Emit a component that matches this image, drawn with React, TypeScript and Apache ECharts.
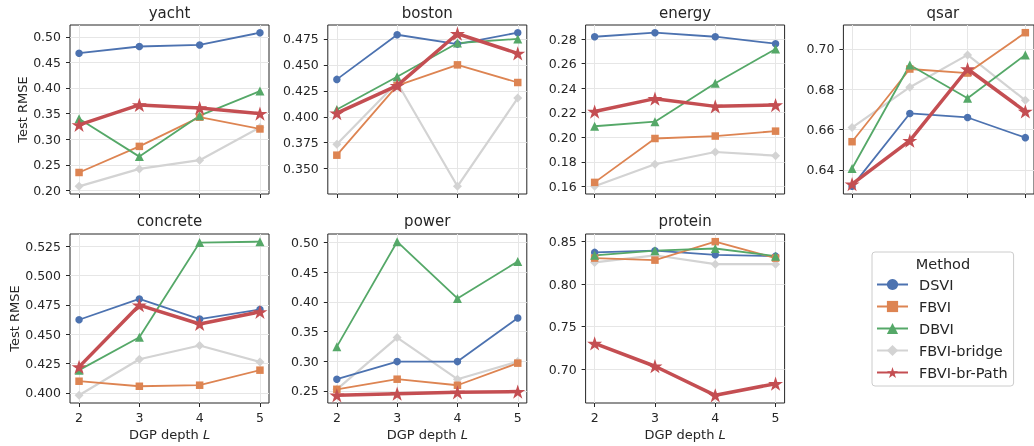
import React, { useEffect, useRef } from 'react';
import * as echarts from 'echarts';

const depths = [2, 3, 4, 5];
const methods = ['DSVI', 'FBVI', 'DBVI', 'FBVI-bridge', 'FBVI-br-Path'];

// rows follow `methods` order, columns follow `depths`
const yacht = [
  [0.468, 0.481, 0.484, 0.508],
  [0.235, 0.286, 0.343, 0.320],
  [0.340, 0.266, 0.346, 0.394],
  [0.208, 0.242, 0.259, 0.323],
  [0.328, 0.367, 0.361, 0.350],
];
const boston = [
  [0.436, 0.479, 0.470, 0.481],
  [0.363, 0.430, 0.450, 0.433],
  [0.407, 0.4385, 0.471, 0.475],
  [0.3735, 0.433, 0.333, 0.418],
  [0.4035, 0.430, 0.480, 0.461],
];
const energy = [
  [0.282, 0.2853, 0.282, 0.2763],
  [0.1632, 0.199, 0.201, 0.205],
  [0.209, 0.2127, 0.244, 0.272],
  [0.160, 0.178, 0.188, 0.185],
  [0.221, 0.2315, 0.2252, 0.2263],
];
const qsar = [
  [0.6319, 0.668, 0.666, 0.656],
  [0.654, 0.690, 0.688, 0.708],
  [0.6407, 0.692, 0.6755, 0.697],
  [0.661, 0.681, 0.697, 0.6745],
  [0.633, 0.6545, 0.690, 0.669],
];
const concrete = [
  [0.4623, 0.480, 0.4629, 0.471],
  [0.410, 0.4057, 0.4066, 0.4194],
  [0.4194, 0.4474, 0.5279, 0.5287],
  [0.398, 0.4287, 0.4404, 0.4264],
  [0.4222, 0.4747, 0.4587, 0.469],
];
const power = [
  [0.2698, 0.2994, 0.2994, 0.3726],
  [0.2528, 0.2698, 0.2596, 0.2968],
  [0.3245, 0.501, 0.4056, 0.4678],
  [0.2528, 0.3398, 0.2698, 0.2994],
  [0.2427, 0.2455, 0.2477, 0.249],
];
const protein = [
  [0.8374, 0.8394, 0.8346, 0.833],
  [0.8307, 0.8283, 0.850, 0.8307],
  [0.8339, 0.8394, 0.842, 0.833],
  [0.8256, 0.834, 0.8236, 0.8236],
  [0.7303, 0.7035, 0.6693, 0.683],
];

const yachtTicks = [0.2, 0.25, 0.3, 0.35, 0.4, 0.45, 0.5];
const bostonTicks = [0.35, 0.375, 0.4, 0.425, 0.45, 0.475];
const energyTicks = [0.16, 0.18, 0.2, 0.22, 0.24, 0.26, 0.28];
const qsarTicks = [0.64, 0.66, 0.68, 0.7];
const concreteTicks = [0.4, 0.425, 0.45, 0.475, 0.5, 0.525];
const powerTicks = [0.25, 0.3, 0.35, 0.4, 0.45, 0.5];
const proteinTicks = [0.7, 0.75, 0.8, 0.85];

const panels = [
  { title: 'yacht', values: yacht, ticks: yachtTicks, dec: 2 },
  { title: 'boston', values: boston, ticks: bostonTicks, dec: 3 },
  { title: 'energy', values: energy, ticks: energyTicks, dec: 2 },
  { title: 'qsar', values: qsar, ticks: qsarTicks, dec: 2 },
  { title: 'concrete', values: concrete, ticks: concreteTicks, dec: 3 },
  { title: 'power', values: power, ticks: powerTicks, dec: 2 },
  { title: 'protein', values: protein, ticks: proteinTicks, dec: 2 },
];

const STAR =
  'path://M50,0 L61.2,34.5 L97.6,34.5 L68.2,55.9 L79.4,90.5 L50,69.1 L20.6,90.5 L31.8,55.9 L2.4,34.5 L38.8,34.5 Z';
const COLORS = ['#4C72B0', '#DD8452', '#55A868', '#d3d3d3', '#C44E52'];
const SYMBOLS = ['circle', 'rect', 'triangle', 'diamond', STAR];
const SIZES = [7.5, 7.5, 9, 9, 15];
const WIDTHS = [1.8, 1.8, 1.8, 2.2, 3.5];
const ZS = [3, 3, 3, 2, 4];

const FONT = 'DejaVu Sans';
const TXT = '#262626';

function pad(min: number, max: number) {
  const r = max - min;
  return [min - 0.05 * r, max + 0.05 * r];
}

export default function App() {
  const ref = useRef<HTMLDivElement>(null);
  useEffect(() => {
    if (!ref.current) return;
    const chart = echarts.init(ref.current, undefined, { renderer: 'svg' });
    const grids: any[] = [];
    const xAxes: any[] = [];
    const yAxes: any[] = [];
    const series: any[] = [];
    const graphics: any[] = [];
    const [xmin, xmax] = pad(Math.min(...depths), Math.max(...depths));
    panels.forEach((p, i) => {
      const row = i < 4 ? 0 : 1;
      const col = i % 4;
      const left = 70 + col * 257.8;
      const top = row === 0 ? 25 : 234;
      grids.push({
        left, top, width: 199, height: 169,
        show: true, borderColor: TXT, borderWidth: 1, backgroundColor: 'transparent',
        containLabel: false,
      });
      const all = p.values.flat();
      const [ymin, ymax] = pad(Math.min(...all), Math.max(...all));
      xAxes.push({
        type: 'value', gridIndex: i, min: xmin, max: xmax,
        axisLine: { show: false },
        axisTick: { show: true, length: 4, customValues: depths, lineStyle: { color: TXT, width: 1 } },
        axisLabel: {
          show: row === 1, customValues: depths, margin: 8,
          fontFamily: FONT, fontSize: 12.5, color: TXT,
          formatter: (v: number) => String(v),
        },
        splitLine: { show: true, lineStyle: { color: '#e6e6e6', width: 1 } },
        name: row === 1 ? 'DGP depth {i|L}' : '',
        nameLocation: 'middle', nameGap: 25,
        nameTextStyle: {
          fontFamily: FONT, fontSize: 13, color: TXT,
          rich: { i: { fontFamily: FONT, fontSize: 13, fontStyle: 'italic', color: TXT } },
        },
      });
      yAxes.push({
        type: 'value', gridIndex: i, min: ymin, max: ymax,
        axisLine: { show: false },
        axisTick: { show: true, length: 4, customValues: p.ticks, lineStyle: { color: TXT, width: 1 } },
        axisLabel: {
          customValues: p.ticks, margin: 9,
          fontFamily: FONT, fontSize: 12.5, color: TXT,
          formatter: (v: number) => v.toFixed(p.dec),
        },
        splitLine: { show: true, lineStyle: { color: '#e6e6e6', width: 1 } },
        name: col === 0 ? 'Test RMSE' : '',
        nameLocation: 'middle', nameGap: 41,
        nameTextStyle: { fontFamily: FONT, fontSize: 13, color: TXT },
      });
      methods.forEach((m, k) => {
        series.push({
          type: 'line', name: m, xAxisIndex: i, yAxisIndex: i,
          data: depths.map((d, j) => [d, p.values[k][j]]),
          symbol: SYMBOLS[k], symbolSize: SIZES[k], symbolKeepAspect: true,
          showAllSymbol: true,
          lineStyle: { color: COLORS[k], width: WIDTHS[k] },
          itemStyle: { color: COLORS[k], borderWidth: 0 },
          z: ZS[k], emphasis: { disabled: true }, silent: true, clip: false,
        });
      });
      graphics.push({
        type: 'text', x: left + 99.5, y: row === 0 ? 12.5 : 221,
        style: { text: p.title, fontFamily: FONT, fontSize: 15, fill: TXT, align: 'center', verticalAlign: 'middle' },
      });
    });
    graphics.push({
      type: 'text', x: 943, y: 264, z: 100,
      style: { text: 'Method', fontFamily: FONT, fontSize: 14.5, fill: TXT, align: 'center', verticalAlign: 'middle' },
    });
    chart.setOption({
      animation: false,
      grid: grids,
      xAxis: xAxes,
      yAxis: yAxes,
      series,
      graphic: graphics,
      legend: {
        data: methods, orient: 'vertical', left: 872, top: 252,
        itemWidth: 31, itemHeight: 14, itemGap: 7,
        padding: [25, 6, 6, 4],
        borderColor: '#cccccc', borderWidth: 1, borderRadius: 3, backgroundColor: '#ffffff',
        textStyle: { fontFamily: FONT, fontSize: 14.5, color: TXT, padding: [0, 0, 0, 6] },
        selectedMode: false,
      },
    });
    return () => chart.dispose();
  }, []);
  return <div ref={ref} style={{ position: 'fixed', left: 0, top: 0, width: 1034, height: 446 }} />;
}
